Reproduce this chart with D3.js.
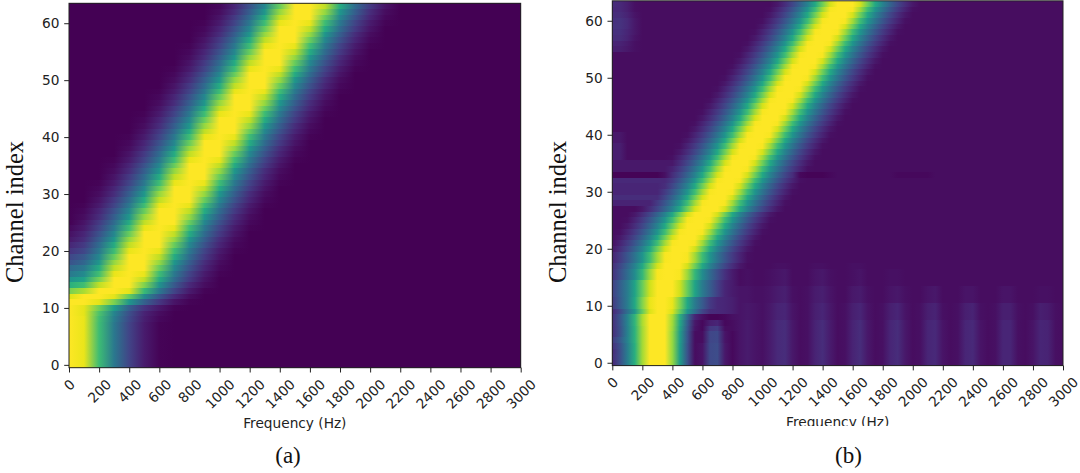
<!DOCTYPE html>
<html lang="en">
<head>
<meta charset="UTF-8">
<title>Channel responses</title>
<script src="https://d3js.org/d3.v7.min.js"></script>
<style>
  body { margin: 0; background: #fff; }
  svg { display: block; }
  .tick text { font-family: "DejaVu Sans", sans-serif; font-size: 13.7px; fill: #222; }
  .tick line { stroke: #222; stroke-width: 1; }
  .frame { fill: none; stroke: #222; stroke-width: 1; }
  .xlabel { font-family: "DejaVu Sans", sans-serif; font-size: 13.7px; fill: #222; }
  .serif { font-family: "Liberation Serif", "Times New Roman", serif; fill: #111; }
</style>
</head>
<body>
<svg id="fig" width="1080" height="473"></svg>
<script>

// frequency bins (Hz) of each panel
var freqA = [0,100,200,300,400,500,600,700,800,900,1000,1100,1200,1300,1400,1500,1600,1700,1800,1900,2000,2100,2200,2300,2400,2500,2600,2700,2800,2900,3000];
var freqB = [0,50,100,150,200,250,300,350,400,450,500,550,600,650,700,750,800,850,900,950,1000,1050,1100,1150,1200,1250,1300,1350,1400,1450,1500,1550,1600,1650,1700,1750,1800,1850,1900,1950,2000,2050,2100,2150,2200,2250,2300,2350,2400,2450,2500,2550,2600,2650,2700,2750,2800,2850,2900,2950,3000];

var xTicks = [0,200,400,600,800,1000,1200,1400,1600,1800,2000,2200,2400,2600,2800,3000];
var yTicks = [0,10,20,30,40,50,60];

// normalised response (0-100), one row per channel index 0..63
var levelsA = [
[100,92,65,38,19,7,1,0,0,0,0,0,0,0,0,0,0,0,0,0,0,0,0,0,0,0,0,0,0,0,0],
[100,92,65,38,19,7,1,0,0,0,0,0,0,0,0,0,0,0,0,0,0,0,0,0,0,0,0,0,0,0,0],
[100,92,65,38,19,7,1,0,0,0,0,0,0,0,0,0,0,0,0,0,0,0,0,0,0,0,0,0,0,0,0],
[100,92,65,38,19,7,1,0,0,0,0,0,0,0,0,0,0,0,0,0,0,0,0,0,0,0,0,0,0,0,0],
[100,92,65,38,19,7,1,0,0,0,0,0,0,0,0,0,0,0,0,0,0,0,0,0,0,0,0,0,0,0,0],
[100,92,65,38,19,7,1,0,0,0,0,0,0,0,0,0,0,0,0,0,0,0,0,0,0,0,0,0,0,0,0],
[100,92,65,38,19,7,1,0,0,0,0,0,0,0,0,0,0,0,0,0,0,0,0,0,0,0,0,0,0,0,0],
[100,92,65,38,19,7,1,0,0,0,0,0,0,0,0,0,0,0,0,0,0,0,0,0,0,0,0,0,0,0,0],
[100,92,66,40,21,8,2,0,0,0,0,0,0,0,0,0,0,0,0,0,0,0,0,0,0,0,0,0,0,0,0],
[100,91,68,43,23,9,3,0,0,0,0,0,0,0,0,0,0,0,0,0,0,0,0,0,0,0,0,0,0,0,0],
[100,91,74,52,28,14,6,1,0,0,0,0,0,0,0,0,0,0,0,0,0,0,0,0,0,0,0,0,0,0,0],
[99,99,91,76,50,29,15,5,1,0,0,0,0,0,0,0,0,0,0,0,0,0,0,0,0,0,0,0,0,0,0],
[90,97,99,91,72,45,25,11,3,0,0,0,0,0,0,0,0,0,0,0,0,0,0,0,0,0,0,0,0,0,0],
[75,83,98,100,91,64,38,19,7,1,0,0,0,0,0,0,0,0,0,0,0,0,0,0,0,0,0,0,0,0,0],
[60,66,86,99,97,77,48,26,11,3,0,0,0,0,0,0,0,0,0,0,0,0,0,0,0,0,0,0,0,0,0],
[48,54,75,95,99,86,58,33,16,5,0,0,0,0,0,0,0,0,0,0,0,0,0,0,0,0,0,0,0,0,0],
[38,45,66,92,100,92,65,38,19,7,1,0,0,0,0,0,0,0,0,0,0,0,0,0,0,0,0,0,0,0,0],
[32,38,58,86,99,95,73,44,24,10,2,0,0,0,0,0,0,0,0,0,0,0,0,0,0,0,0,0,0,0,0],
[24,31,50,80,98,98,80,50,28,12,3,0,0,0,0,0,0,0,0,0,0,0,0,0,0,0,0,0,0,0,0],
[20,26,44,73,95,99,86,58,33,16,5,0,0,0,0,0,0,0,0,0,0,0,0,0,0,0,0,0,0,0,0],
[14,20,38,65,92,100,92,65,38,19,7,1,0,0,0,0,0,0,0,0,0,0,0,0,0,0,0,0,0,0,0],
[10,16,33,58,86,99,95,73,44,24,10,2,0,0,0,0,0,0,0,0,0,0,0,0,0,0,0,0,0,0,0],
[6,12,28,50,80,98,98,80,50,28,12,3,0,0,0,0,0,0,0,0,0,0,0,0,0,0,0,0,0,0,0],
[4,10,24,44,73,95,99,86,58,33,16,5,0,0,0,0,0,0,0,0,0,0,0,0,0,0,0,0,0,0,0],
[2,7,19,38,65,92,100,92,65,38,19,7,1,0,0,0,0,0,0,0,0,0,0,0,0,0,0,0,0,0,0],
[0,5,16,33,58,86,99,95,73,44,24,10,2,0,0,0,0,0,0,0,0,0,0,0,0,0,0,0,0,0,0],
[0,3,12,28,50,80,98,98,80,50,28,12,3,0,0,0,0,0,0,0,0,0,0,0,0,0,0,0,0,0,0],
[0,2,10,24,44,73,95,99,86,58,33,16,5,0,0,0,0,0,0,0,0,0,0,0,0,0,0,0,0,0,0],
[0,1,7,19,38,65,92,100,92,65,38,19,7,1,0,0,0,0,0,0,0,0,0,0,0,0,0,0,0,0,0],
[0,0,5,16,33,58,86,99,95,73,44,24,10,2,0,0,0,0,0,0,0,0,0,0,0,0,0,0,0,0,0],
[0,0,3,12,28,50,80,98,98,80,50,28,12,3,0,0,0,0,0,0,0,0,0,0,0,0,0,0,0,0,0],
[0,0,2,10,24,44,73,95,99,86,58,33,16,5,0,0,0,0,0,0,0,0,0,0,0,0,0,0,0,0,0],
[0,0,1,7,19,38,65,92,100,92,65,38,19,7,1,0,0,0,0,0,0,0,0,0,0,0,0,0,0,0,0],
[0,0,0,5,16,33,58,86,99,95,73,44,24,10,2,0,0,0,0,0,0,0,0,0,0,0,0,0,0,0,0],
[0,0,0,3,12,28,50,80,98,98,80,50,28,12,3,0,0,0,0,0,0,0,0,0,0,0,0,0,0,0,0],
[0,0,0,2,10,24,44,73,95,99,86,58,33,16,5,0,0,0,0,0,0,0,0,0,0,0,0,0,0,0,0],
[0,0,0,1,7,19,38,65,92,100,92,65,38,19,7,1,0,0,0,0,0,0,0,0,0,0,0,0,0,0,0],
[0,0,0,0,5,16,33,58,86,99,95,73,44,24,10,2,0,0,0,0,0,0,0,0,0,0,0,0,0,0,0],
[0,0,0,0,3,12,28,50,80,98,98,80,50,28,12,3,0,0,0,0,0,0,0,0,0,0,0,0,0,0,0],
[0,0,0,0,2,10,24,44,73,95,99,86,58,33,16,5,0,0,0,0,0,0,0,0,0,0,0,0,0,0,0],
[0,0,0,0,1,7,19,38,65,92,100,92,65,38,19,7,1,0,0,0,0,0,0,0,0,0,0,0,0,0,0],
[0,0,0,0,0,5,16,33,58,86,99,95,73,44,24,10,2,0,0,0,0,0,0,0,0,0,0,0,0,0,0],
[0,0,0,0,0,3,12,28,50,80,98,98,80,50,28,12,3,0,0,0,0,0,0,0,0,0,0,0,0,0,0],
[0,0,0,0,0,2,10,24,44,73,95,99,86,58,33,16,5,0,0,0,0,0,0,0,0,0,0,0,0,0,0],
[0,0,0,0,0,1,7,19,38,65,92,100,92,65,38,19,7,1,0,0,0,0,0,0,0,0,0,0,0,0,0],
[0,0,0,0,0,0,5,16,33,58,86,99,95,73,44,24,10,2,0,0,0,0,0,0,0,0,0,0,0,0,0],
[0,0,0,0,0,0,3,12,28,50,80,98,98,80,50,28,12,3,0,0,0,0,0,0,0,0,0,0,0,0,0],
[0,0,0,0,0,0,2,10,24,44,73,95,99,86,58,33,16,5,0,0,0,0,0,0,0,0,0,0,0,0,0],
[0,0,0,0,0,0,1,7,19,38,65,92,100,92,65,38,19,7,1,0,0,0,0,0,0,0,0,0,0,0,0],
[0,0,0,0,0,0,0,5,16,33,58,86,99,95,73,44,24,10,2,0,0,0,0,0,0,0,0,0,0,0,0],
[0,0,0,0,0,0,0,3,12,28,50,80,98,98,80,50,28,12,3,0,0,0,0,0,0,0,0,0,0,0,0],
[0,0,0,0,0,0,0,2,10,24,44,73,95,99,86,58,33,16,5,0,0,0,0,0,0,0,0,0,0,0,0],
[0,0,0,0,0,0,0,1,7,19,38,65,92,100,92,65,38,19,7,1,0,0,0,0,0,0,0,0,0,0,0],
[0,0,0,0,0,0,0,0,5,16,33,58,86,99,95,73,44,24,10,2,0,0,0,0,0,0,0,0,0,0,0],
[0,0,0,0,0,0,0,0,3,12,28,50,80,98,98,80,50,28,12,3,0,0,0,0,0,0,0,0,0,0,0],
[0,0,0,0,0,0,0,0,2,10,24,44,73,95,99,86,58,33,16,5,0,0,0,0,0,0,0,0,0,0,0],
[0,0,0,0,0,0,0,0,1,7,19,38,65,92,100,92,65,38,19,7,1,0,0,0,0,0,0,0,0,0,0],
[0,0,0,0,0,0,0,0,0,5,16,33,58,86,99,95,73,44,24,10,2,0,0,0,0,0,0,0,0,0,0],
[0,0,0,0,0,0,0,0,0,3,12,28,50,80,98,98,80,50,28,12,3,0,0,0,0,0,0,0,0,0,0],
[0,0,0,0,0,0,0,0,0,2,10,24,44,73,95,99,86,58,33,16,5,0,0,0,0,0,0,0,0,0,0],
[0,0,0,0,0,0,0,0,0,1,7,19,38,65,92,100,92,65,38,19,7,1,0,0,0,0,0,0,0,0,0],
[0,0,0,0,0,0,0,0,0,0,5,16,33,58,86,99,95,73,44,24,10,2,0,0,0,0,0,0,0,0,0],
[0,0,0,0,0,0,0,0,0,0,3,12,28,50,80,98,98,80,50,28,12,3,0,0,0,0,0,0,0,0,0],
[0,0,0,0,0,0,0,0,0,0,2,10,24,44,73,95,99,86,58,33,16,5,0,0,0,0,0,0,0,0,0]
];

var levelsB = [
[10,22,40,60,82,96,100,97,80,52,24,3,5,21,22,6,2,5,7,5,4,7,11,12,6,3,4,9,12,7,3,4,9,12,6,3,4,10,12,6,3,4,10,11,5,3,4,10,11,5,3,4,10,10,4,3,5,10,9,4,3],
[12,22,40,60,82,96,100,97,80,52,24,3,5,21,22,6,2,5,7,5,4,7,11,12,6,3,4,9,12,7,3,4,9,12,6,3,4,10,12,6,3,4,10,11,5,3,4,10,11,5,3,4,10,10,4,3,5,10,9,4,3],
[11,22,40,60,82,96,100,97,80,52,24,3,5,21,22,6,2,5,7,5,4,7,11,12,6,3,4,9,12,7,3,4,9,12,6,3,4,10,12,6,3,4,10,11,5,3,4,10,11,5,3,4,10,10,4,3,5,10,9,4,3],
[13,23,40,60,82,96,100,97,80,52,24,3,5,21,22,6,2,5,7,5,4,7,11,12,6,3,4,9,12,7,3,4,9,12,6,3,4,10,12,6,3,4,10,11,5,3,4,10,11,5,3,4,10,10,4,3,5,10,9,4,3],
[16,26,42,61,82,96,100,97,80,53,25,3,3,20,21,5,2,5,7,5,4,7,11,12,6,3,4,9,12,7,3,4,9,12,6,3,4,10,12,6,3,4,10,11,5,3,4,10,11,5,3,4,10,10,4,3,5,10,9,4,3],
[12,23,41,61,82,96,100,97,80,53,25,3,3,20,21,5,2,5,7,5,4,7,11,12,6,3,4,9,12,7,3,4,9,12,6,3,4,10,12,6,3,4,10,11,5,3,4,10,11,5,3,4,10,10,4,3,5,10,9,4,3],
[12,23,41,61,82,96,100,97,81,55,26,5,2,15,17,3,3,5,7,5,4,7,11,12,6,3,4,9,12,7,3,4,9,12,6,3,4,10,12,6,3,4,10,11,5,3,4,10,11,5,3,4,10,10,4,3,5,10,9,4,3],
[12,24,42,62,83,96,100,97,82,57,28,6,2,8,10,2,3,5,7,5,4,7,11,12,6,3,4,9,12,7,3,4,9,12,6,3,4,10,12,6,3,4,10,11,5,3,4,10,11,5,3,4,10,10,4,3,5,10,9,4,3],
[13,25,42,62,83,96,100,97,83,60,32,10,4,1,1,2,4,5,6,5,4,6,9,10,5,3,4,8,10,6,3,4,8,10,5,3,4,8,10,5,3,4,8,9,4,3,4,8,9,4,3,4,8,8,4,3,4,8,7,4,3],
[11,20,34,50,72,90,99,99,90,72,50,34,20,12,11,10,8,5,6,5,4,6,9,10,5,3,4,8,10,6,3,4,8,10,5,3,4,8,10,5,3,4,8,9,4,3,4,8,9,4,3,4,8,8,4,3,4,8,7,4,3],
[16,27,39,57,77,92,99,99,92,77,57,39,27,16,11,10,8,5,6,5,4,6,9,10,5,3,4,8,10,6,3,4,8,10,5,3,4,8,10,5,3,4,8,9,4,3,4,8,9,4,3,4,8,8,4,3,4,8,7,4,3],
[16,27,39,57,77,92,99,99,92,77,57,39,27,16,11,10,8,5,5,4,4,5,7,8,4,3,4,7,8,5,3,3,6,7,4,3,3,5,6,4,3,3,5,6,3,3,3,5,5,3,3,3,5,5,3,3,3,4,4,3,3],
[18,28,39,55,73,88,97,100,97,88,73,55,39,28,18,10,7,5,5,4,4,5,7,8,4,3,4,7,8,5,3,3,6,7,4,3,3,5,6,4,3,3,5,6,3,3,3,5,5,3,3,3,5,5,3,3,3,4,4,3,3],
[18,28,39,55,73,88,97,100,97,88,73,55,39,28,18,10,7,5,5,4,4,5,7,8,4,3,4,7,8,5,3,3,6,7,4,3,3,5,6,4,3,3,5,6,3,3,3,5,5,3,3,3,5,5,3,3,3,4,4,3,3],
[18,28,39,55,73,88,97,100,97,88,73,55,39,28,18,10,7,3,4,3,3,4,5,6,3,3,3,5,6,4,3,3,4,5,3,3,3,4,4,3,3,3,3,3,3,3,3,3,3,3,3,3,3,3,3,3,3,3,3,3,3],
[13,22,33,46,63,81,94,99,99,94,81,63,46,33,22,13,7,3,4,3,3,4,5,6,3,3,3,5,6,4,3,3,4,5,3,3,3,4,4,3,3,3,3,3,3,3,3,3,3,3,3,3,3,3,3,3,3,3,3,3,3],
[13,22,33,46,63,81,94,99,99,94,81,63,46,33,22,13,7,3,4,3,3,4,5,6,3,3,3,5,6,4,3,3,4,5,3,3,3,4,4,3,3,3,3,3,3,3,3,3,3,3,3,3,3,3,3,3,3,3,3,3,3],
[12,20,30,42,57,74,89,97,100,97,89,74,57,42,30,20,12,6,3,3,3,3,4,4,3,3,3,4,4,3,3,3,4,4,3,3,3,3,3,3,3,3,3,3,3,3,3,3,3,3,3,3,3,3,3,3,3,3,3,3,3],
[9,16,25,36,49,65,82,94,99,99,94,82,65,49,36,25,16,9,4,3,3,3,3,3,3,3,3,3,3,3,3,3,3,3,3,3,3,3,3,3,3,3,3,3,3,3,3,3,3,3,3,3,3,3,3,3,3,3,3,3,3],
[9,16,25,36,49,65,82,94,99,99,94,82,65,49,36,25,16,9,4,3,3,3,3,3,3,3,3,3,3,3,3,3,3,3,3,3,3,3,3,3,3,3,3,3,3,3,3,3,3,3,3,3,3,3,3,3,3,3,3,3,3],
[6,12,20,30,42,57,74,89,97,100,97,89,74,57,42,30,20,12,6,3,3,3,3,3,3,3,3,3,3,3,3,3,3,3,3,3,3,3,3,3,3,3,3,3,3,3,3,3,3,3,3,3,3,3,3,3,3,3,3,3,3],
[4,9,16,25,36,49,65,82,94,99,99,94,82,65,49,36,25,16,9,4,3,3,3,3,3,3,3,3,3,3,3,3,3,3,3,3,3,3,3,3,3,3,3,3,3,3,3,3,3,3,3,3,3,3,3,3,3,3,3,3,3],
[3,6,12,20,30,42,57,74,89,97,100,97,89,74,57,42,30,20,12,6,3,3,3,3,3,3,3,3,3,3,3,3,3,3,3,3,3,3,3,3,3,3,3,3,3,3,3,3,3,3,3,3,3,3,3,3,3,3,3,3,3],
[3,4,9,16,25,36,49,65,82,94,99,99,94,82,65,49,36,25,16,9,4,3,3,3,3,3,3,3,3,3,3,3,3,3,3,3,3,3,3,3,3,3,3,3,3,3,3,3,3,3,3,3,3,3,3,3,3,3,3,3,3],
[3,3,6,12,20,30,42,57,74,89,97,100,97,89,74,57,42,30,20,12,6,3,3,3,3,3,3,3,3,3,3,3,3,3,3,3,3,3,3,3,3,3,3,3,3,3,3,3,3,3,3,3,3,3,3,3,3,3,3,3,3],
[3,3,4,9,16,25,36,49,65,82,94,99,99,94,82,65,49,36,25,16,9,4,3,3,3,3,3,3,3,3,3,3,3,3,3,3,3,3,3,3,3,3,3,3,3,3,3,3,3,3,3,3,3,3,3,3,3,3,3,3,3],
[3,3,3,6,12,20,30,42,57,74,89,97,100,97,89,74,57,42,30,20,12,6,3,3,3,3,3,3,3,3,3,3,3,3,3,3,3,3,3,3,3,3,3,3,3,3,3,3,3,3,3,3,3,3,3,3,3,3,3,3,3],
[3,3,3,3,6,12,20,30,42,57,74,89,97,100,97,89,74,57,42,30,20,12,6,3,3,3,3,3,3,3,3,3,3,3,3,3,3,3,3,3,3,3,3,3,3,3,3,3,3,3,3,3,3,3,3,3,3,3,3,3,3],
[9,9,9,9,9,9,16,25,36,49,65,82,94,99,99,94,82,65,49,36,25,16,9,4,3,3,3,3,3,3,3,3,3,3,3,3,3,3,3,3,3,3,3,3,3,3,3,3,3,3,3,3,3,3,3,3,3,3,3,3,3],
[12,12,12,12,12,12,12,20,30,42,57,74,89,97,100,97,89,74,57,42,30,20,12,6,3,3,3,3,3,3,3,3,3,3,3,3,3,3,3,3,3,3,3,3,3,3,3,3,3,3,3,3,3,3,3,3,3,3,3,3,3],
[10,10,10,10,10,10,10,16,25,36,49,65,82,94,99,99,94,82,65,49,36,25,16,9,4,3,3,3,3,3,3,3,3,3,3,3,3,3,3,3,3,3,3,3,3,3,3,3,3,3,3,3,3,3,3,3,3,3,3,3,3],
[10,10,10,10,10,10,10,12,20,30,42,57,74,89,97,100,97,89,74,57,42,30,20,12,6,3,3,3,3,3,3,3,3,3,3,3,3,3,3,3,3,3,3,3,3,3,3,3,3,3,3,3,3,3,3,3,3,3,3,3,3],
[11,11,11,11,11,11,11,11,16,25,36,49,65,82,94,99,99,94,82,65,49,36,25,16,9,4,3,3,3,3,3,3,3,3,3,3,3,3,3,3,3,3,3,3,3,3,3,3,3,3,3,3,3,3,3,3,3,3,3,3,3],
[1,1,1,1,1,1,1,4,12,20,30,42,57,74,89,97,100,97,89,74,57,42,30,20,12,2,1,1,1,2,3,3,3,3,3,3,3,3,2,2,2,2,2,3,3,3,3,3,3,3,3,3,3,3,3,3,3,3,3,3,3],
[6,6,6,6,6,6,6,6,9,16,25,36,49,65,82,94,99,99,94,82,65,49,36,25,16,9,4,3,3,3,3,3,3,3,3,3,3,3,3,3,3,3,3,3,3,3,3,3,3,3,3,3,3,3,3,3,3,3,3,3,3],
[6,6,6,6,6,6,6,6,6,12,20,30,42,57,74,89,97,100,97,89,74,57,42,30,20,12,6,3,3,3,3,3,3,3,3,3,3,3,3,3,3,3,3,3,3,3,3,3,3,3,3,3,3,3,3,3,3,3,3,3,3],
[8,8,3,3,3,3,3,3,4,9,16,25,36,49,65,82,94,99,99,94,82,65,49,36,25,16,9,4,3,3,3,3,3,3,3,3,3,3,3,3,3,3,3,3,3,3,3,3,3,3,3,3,3,3,3,3,3,3,3,3,3],
[8,8,3,3,3,3,3,3,3,6,12,20,30,42,57,74,89,97,100,97,89,74,57,42,30,20,12,6,3,3,3,3,3,3,3,3,3,3,3,3,3,3,3,3,3,3,3,3,3,3,3,3,3,3,3,3,3,3,3,3,3],
[8,8,3,3,3,3,3,3,3,4,9,16,25,36,49,65,82,94,99,99,94,82,65,49,36,25,16,9,4,3,3,3,3,3,3,3,3,3,3,3,3,3,3,3,3,3,3,3,3,3,3,3,3,3,3,3,3,3,3,3,3],
[6,6,3,3,3,3,3,3,3,3,6,12,20,30,42,57,74,89,97,100,97,89,74,57,42,30,20,12,6,3,3,3,3,3,3,3,3,3,3,3,3,3,3,3,3,3,3,3,3,3,3,3,3,3,3,3,3,3,3,3,3],
[6,6,3,3,3,3,3,3,3,3,4,9,16,25,36,49,65,82,94,99,99,94,82,65,49,36,25,16,9,4,3,3,3,3,3,3,3,3,3,3,3,3,3,3,3,3,3,3,3,3,3,3,3,3,3,3,3,3,3,3,3],
[3,3,3,3,3,3,3,3,3,3,3,6,12,20,30,42,57,74,89,97,100,97,89,74,57,42,30,20,12,6,3,3,3,3,3,3,3,3,3,3,3,3,3,3,3,3,3,3,3,3,3,3,3,3,3,3,3,3,3,3,3],
[3,3,3,3,3,3,3,3,3,3,3,4,9,16,25,36,49,65,82,94,99,99,94,82,65,49,36,25,16,9,4,3,3,3,3,3,3,3,3,3,3,3,3,3,3,3,3,3,3,3,3,3,3,3,3,3,3,3,3,3,3],
[3,3,3,3,3,3,3,3,3,3,3,3,6,12,20,30,42,57,74,89,97,100,97,89,74,57,42,30,20,12,6,3,3,3,3,3,3,3,3,3,3,3,3,3,3,3,3,3,3,3,3,3,3,3,3,3,3,3,3,3,3],
[3,3,3,3,3,3,3,3,3,3,3,3,4,9,16,25,36,49,65,82,94,99,99,94,82,65,49,36,25,16,9,4,3,3,3,3,3,3,3,3,3,3,3,3,3,3,3,3,3,3,3,3,3,3,3,3,3,3,3,3,3],
[3,3,3,3,3,3,3,3,3,3,3,3,3,6,12,20,30,42,57,74,89,97,100,97,89,74,57,42,30,20,12,6,3,3,3,3,3,3,3,3,3,3,3,3,3,3,3,3,3,3,3,3,3,3,3,3,3,3,3,3,3],
[3,3,3,3,3,3,3,3,3,3,3,3,3,4,9,16,25,36,49,65,82,94,99,99,94,82,65,49,36,25,16,9,4,3,3,3,3,3,3,3,3,3,3,3,3,3,3,3,3,3,3,3,3,3,3,3,3,3,3,3,3],
[3,3,3,3,3,3,3,3,3,3,3,3,3,3,6,12,20,30,42,57,74,89,97,100,97,89,74,57,42,30,20,12,6,3,3,3,3,3,3,3,3,3,3,3,3,3,3,3,3,3,3,3,3,3,3,3,3,3,3,3,3],
[3,3,3,3,3,3,3,3,3,3,3,3,3,3,4,9,16,25,36,49,65,82,94,99,99,94,82,65,49,36,25,16,9,4,3,3,3,3,3,3,3,3,3,3,3,3,3,3,3,3,3,3,3,3,3,3,3,3,3,3,3],
[3,3,3,3,3,3,3,3,3,3,3,3,3,3,3,6,12,20,30,42,57,74,89,97,100,97,89,74,57,42,30,20,12,6,3,3,3,3,3,3,3,3,3,3,3,3,3,3,3,3,3,3,3,3,3,3,3,3,3,3,3],
[3,3,3,3,3,3,3,3,3,3,3,3,3,3,3,4,9,16,25,36,49,65,82,94,99,99,94,82,65,49,36,25,16,9,4,3,3,3,3,3,3,3,3,3,3,3,3,3,3,3,3,3,3,3,3,3,3,3,3,3,3],
[3,3,3,3,3,3,3,3,3,3,3,3,3,3,3,3,6,12,20,30,42,57,74,89,97,100,97,89,74,57,42,30,20,12,6,3,3,3,3,3,3,3,3,3,3,3,3,3,3,3,3,3,3,3,3,3,3,3,3,3,3],
[3,3,3,3,3,3,3,3,3,3,3,3,3,3,3,3,4,9,16,25,36,49,65,82,94,99,99,94,82,65,49,36,25,16,9,4,3,3,3,3,3,3,3,3,3,3,3,3,3,3,3,3,3,3,3,3,3,3,3,3,3],
[3,3,3,3,3,3,3,3,3,3,3,3,3,3,3,3,3,6,12,20,30,42,57,74,89,97,100,97,89,74,57,42,30,20,12,6,3,3,3,3,3,3,3,3,3,3,3,3,3,3,3,3,3,3,3,3,3,3,3,3,3],
[3,3,3,3,3,3,3,3,3,3,3,3,3,3,3,3,3,4,9,16,25,36,49,65,82,94,99,99,94,82,65,49,36,25,16,9,4,3,3,3,3,3,3,3,3,3,3,3,3,3,3,3,3,3,3,3,3,3,3,3,3],
[8,8,6,4,3,3,3,3,3,3,3,3,3,3,3,3,3,3,6,12,20,30,42,57,74,89,97,100,97,89,74,57,42,30,20,12,6,3,3,3,3,3,3,3,3,3,3,3,3,3,3,3,3,3,3,3,3,3,3,3,3],
[10,9,7,4,3,3,3,3,3,3,3,3,3,3,3,3,3,3,4,9,16,25,36,49,65,82,94,99,99,94,82,65,49,36,25,16,9,4,3,3,3,3,3,3,3,3,3,3,3,3,3,3,3,3,3,3,3,3,3,3,3],
[12,12,9,5,3,3,3,3,3,3,3,3,3,3,3,3,3,3,3,6,12,20,30,42,57,74,89,97,100,97,89,74,57,42,30,20,12,6,3,3,3,3,3,3,3,3,3,3,3,3,3,3,3,3,3,3,3,3,3,3,3],
[13,13,10,6,3,3,3,3,3,3,3,3,3,3,3,3,3,3,3,4,9,16,25,36,49,65,82,94,99,99,94,82,65,49,36,25,16,9,4,3,3,3,3,3,3,3,3,3,3,3,3,3,3,3,3,3,3,3,3,3,3],
[14,14,11,6,3,3,3,3,3,3,3,3,3,3,3,3,3,3,3,3,6,12,20,30,42,57,74,89,97,100,97,89,74,57,42,30,20,12,6,3,3,3,3,3,3,3,3,3,3,3,3,3,3,3,3,3,3,3,3,3,3],
[13,14,11,6,3,3,3,3,3,3,3,3,3,3,3,3,3,3,3,3,4,9,16,25,36,49,65,82,94,99,99,94,82,65,49,36,25,16,9,4,3,3,3,3,3,3,3,3,3,3,3,3,3,3,3,3,3,3,3,3,3],
[12,12,9,5,3,3,3,3,3,3,3,3,3,3,3,3,3,3,3,3,3,6,12,20,30,42,57,74,89,97,100,97,89,74,57,42,30,20,12,6,3,3,3,3,3,3,3,3,3,3,3,3,3,3,3,3,3,3,3,3,3],
[11,11,8,4,3,3,3,3,3,3,3,3,3,3,3,3,3,3,3,3,3,4,9,16,25,36,49,65,82,94,99,99,94,82,65,49,36,25,16,9,4,3,3,3,3,3,3,3,3,3,3,3,3,3,3,3,3,3,3,3,3],
[12,11,8,4,3,3,3,3,3,3,3,3,3,3,3,3,3,3,3,3,3,3,6,12,20,30,42,57,74,89,97,100,97,89,74,57,42,30,20,12,6,3,3,3,3,3,3,3,3,3,3,3,3,3,3,3,3,3,3,3,3]
];

var svg = d3.select("#fig");
var defs = svg.append("defs");
var color = d3.scaleSequential(d3.interpolateViridis).domain([0, 95]).clamp(true);

var panels = [
  {id: "a", levels: levelsA, freqs: freqA, left: 69, right: 520.7, top: 3.3, bottom: 367.7,
   caption: "(a)", capX: 288, ylabX: 23.3, labelY: 428.3},
  {id: "b", levels: levelsB, freqs: freqB, left: 612.3, right: 1063, top: 0.8, bottom: 365.6,
   caption: "(b)", capX: 848.5, ylabX: 566.3, labelY: 427.3, clipY: 426}
];

function drawPanel(p) {
  var fMin = p.freqs[0], fMax = p.freqs[p.freqs.length - 1];
  var x = d3.scaleLinear().domain([fMin, fMax]).range([p.left, p.right]);
  var y = d3.scaleLinear().domain([-0.5, p.levels.length - 0.5]).range([p.bottom, p.top]);
  var span = x(fMax) - x(fMin);
  var g = svg.append("g");

  // one horizontal gradient per channel row
  p.levels.forEach(function(row, i) {
    if (row.length !== p.freqs.length) throw new Error("panel " + p.id + " row " + i + " has " + row.length + " values");
    defs.append("linearGradient")
      .attr("id", "grad-" + p.id + "-" + i)
      .attr("x1", 0).attr("x2", 1).attr("y1", 0).attr("y2", 0)
      .selectAll("stop").data(row).join("stop")
      .attr("offset", function(v, j) { return (x(p.freqs[j]) - x(fMin)) / span; })
      .attr("stop-color", function(v) { return color(v); });
  });

  g.selectAll("rect.row").data(p.levels).join("rect")
    .attr("class", "row")
    .attr("x", x(fMin))
    .attr("width", span)
    .attr("y", function(d, i) { return y(i + 0.5); })
    .attr("height", function(d, i) { return y(i - 0.5) - y(i + 0.5); })
    .attr("fill", function(d, i) { return "url(#grad-" + p.id + "-" + i + ")"; })
    .attr("shape-rendering", "crispEdges");

  g.append("rect").attr("class", "frame")
    .attr("x", p.left).attr("y", p.top)
    .attr("width", p.right - p.left).attr("height", p.bottom - p.top);

  var yAxis = g.append("g")
    .attr("transform", "translate(" + p.left + ",0)")
    .call(d3.axisLeft(y).tickValues(yTicks).tickFormat(d3.format("d"))
      .tickSize(4.8).tickSizeOuter(0).tickPadding(4.8));
  yAxis.select(".domain").remove();

  var xAxis = g.append("g")
    .attr("transform", "translate(0," + p.bottom + ")")
    .call(d3.axisBottom(x).tickValues(xTicks).tickFormat(d3.format("d"))
      .tickSize(4.8).tickSizeOuter(0).tickPadding(0));
  xAxis.select(".domain").remove();
  xAxis.selectAll(".tick text").each(function() {
    var len = this.getComputedTextLength();
    var off = 9.6 + (len + 10) * 0.7071 / 2 + 1;
    d3.select(this)
      .attr("y", 0).attr("dy", "0.35em")
      .attr("text-anchor", "middle")
      .attr("transform", "translate(0," + off + ") rotate(-45)");
  });

  var xlab = svg.append("text").attr("class", "xlabel")
    .attr("x", (p.left + p.right) / 2).attr("y", p.labelY)
    .attr("text-anchor", "middle")
    .text("Frequency (Hz)");
  if (p.clipY) {
    defs.append("clipPath").attr("id", "cut-" + p.id)
      .append("rect").attr("x", 0).attr("y", 0).attr("width", 1080).attr("height", p.clipY);
    xlab.attr("clip-path", "url(#cut-" + p.id + ")");
  }

  svg.append("text").attr("class", "serif")
    .attr("transform", "translate(" + p.ylabX + ",212) rotate(-90)")
    .attr("text-anchor", "middle")
    .style("font-size", "24.5px")
    .text("Channel index");

  svg.append("text").attr("class", "serif")
    .attr("x", p.capX).attr("y", 463)
    .attr("text-anchor", "middle")
    .style("font-size", "23px")
    .text(p.caption);
}

panels.forEach(drawPanel);

</script>
</body>
</html>
